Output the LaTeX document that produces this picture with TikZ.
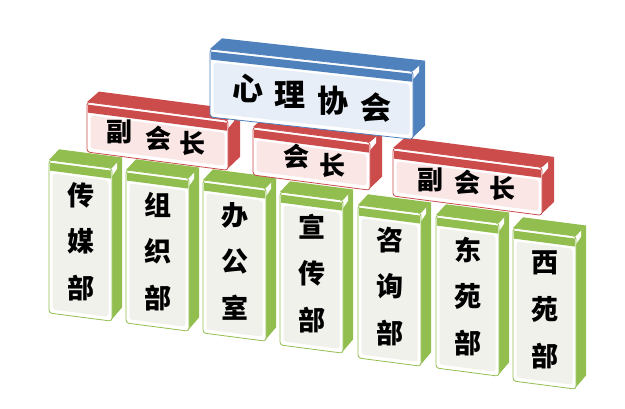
\documentclass[tikz,border=0pt]{standalone}
\usepackage{fontspec}
\newfontfamily\cjk{Noto Sans CJK SC}
\definecolor{grn}{HTML}{92BE50}
\definecolor{grnp}{HTML}{EFF1EA}
\definecolor{rd}{HTML}{CC4B4B}
\definecolor{rdp}{HTML}{FBE6E6}
\definecolor{bl}{HTML}{4F81BD}
\definecolor{blp}{HTML}{E8EEF7}
\def\bdx{10}
\def\bdy{-12}
% #1 name, #2 x, #3 y, #4 width, #5 height, #6 slope, #7 colour, #8 panel colour
\newcommand{\orgbox}[8]{%
  \begin{scope}[shift={(#2,#3)}, yslant=-#6]
    \coordinate (#1) at (0,0);
    \fill[#7] (0,0) -- (#4,0) -- ++(\bdx,\bdy) -- (\bdx,\bdy) -- cycle;
    \fill[#7] (#4,0) -- ++(\bdx,\bdy) -- ++(0,#5-3) -- (#4,#5-2) -- cycle;
    \fill[white] (#4,0) -- ++(0.5*\bdx,0.5*\bdy) -- ++(0,6) -- (#4,8) -- cycle;
    \draw[#7, line width=0.8pt, fill=white, rounded corners=3pt] (0,0) rectangle (#4,#5);
    \fill[#7] (0.8,2.5) rectangle (#4-0.8,10.5);
    \fill[#8, rounded corners=3pt] (3.5,13) rectangle (#4-3.5,#5-4);
  \end{scope}}
\tikzset{
  gtxt/.style={inner sep=0pt, font=\cjk\bfseries\fontsize{27}{27}\selectfont},
  rtxt/.style={inner sep=0pt, font=\cjk\bfseries\fontsize{26}{26}\selectfont},
  btxt/.style={inner sep=0pt, font=\cjk\bfseries\fontsize{31}{31}\selectfont}
}
\begin{document}
\begin{tikzpicture}[x=1pt,y=-1pt]
\useasboundingbox (0,0) rectangle (625,409);
% green department boxes
\def\bdx{10}
\orgbox{g1}{49}{160}{63}{153}{0.13}{grn}{grnp}
\orgbox{g2}{126}{170}{63}{153}{0.13}{grn}{grnp}
\orgbox{g3}{203}{180}{63}{153}{0.13}{grn}{grnp}
\orgbox{g4}{280}{192}{63}{153}{0.13}{grn}{grnp}
\orgbox{g5}{358}{205}{63}{153}{0.13}{grn}{grnp}
\orgbox{g6}{436}{215}{63}{153}{0.13}{grn}{grnp}
\orgbox{g7}{513}{228}{63}{153}{0.13}{grn}{grnp}
% red boxes
\def\bdx{12}
\orgbox{r1}{87}{102}{141}{50}{0.13}{rd}{rdp}
\orgbox{r2}{253}{127}{117}{48}{0.13}{rd}{rdp}
\orgbox{r3}{393}{148}{149}{48}{0.13}{rd}{rdp}
% blue box
\orgbox{b1}{210}{49}{203}{68}{0.11}{bl}{blp}
% texts
\node[btxt] (b1a) at (248,88) {心};
\node[btxt] (b1b) at (290,95) {理};
\node[btxt] (b1c) at (333,101) {协};
\node[btxt] (b1d) at (376,108) {会};
\node[rtxt] (r1a) at (119,132) {副};
\node[rtxt] (r1b) at (158,139) {会};
\node[rtxt] (r1c) at (192,143) {长};
\node[rtxt] (r2a) at (296,157) {会};
\node[rtxt] (r2b) at (332,165) {长};
\node[rtxt] (r3a) at (430,180) {副};
\node[rtxt] (r3b) at (467,183) {会};
\node[rtxt] (r3c) at (502,188) {长};
\node[gtxt] (g1a) at (81,195) {传};
\node[gtxt] (g1b) at (81,241) {媒};
\node[gtxt] (g1c) at (81,288) {部};
\node[gtxt] (g2a) at (158,205) {组};
\node[gtxt] (g2b) at (158,251) {织};
\node[gtxt] (g2c) at (158,298) {部};
\node[gtxt] (g3a) at (235,215) {办};
\node[gtxt] (g3b) at (235,261) {公};
\node[gtxt] (g3c) at (235,308) {室};
\node[gtxt] (g4a) at (312,227) {宣};
\node[gtxt] (g4b) at (312,273) {传};
\node[gtxt] (g4c) at (312,320) {部};
\node[gtxt] (g5a) at (390,240) {咨};
\node[gtxt] (g5b) at (390,286) {询};
\node[gtxt] (g5c) at (390,333) {部};
\node[gtxt] (g6a) at (468,250) {东};
\node[gtxt] (g6b) at (468,296) {苑};
\node[gtxt] (g6c) at (468,343) {部};
\node[gtxt] (g7a) at (545,263) {西};
\node[gtxt] (g7b) at (545,309) {苑};
\node[gtxt] (g7c) at (545,356) {部};
\end{tikzpicture}
\end{document}
